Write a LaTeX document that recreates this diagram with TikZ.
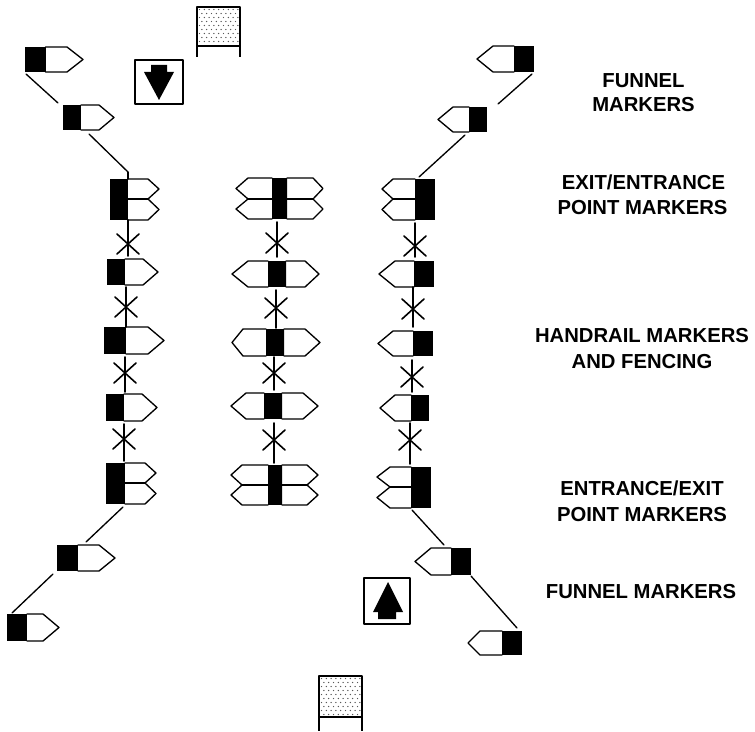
\documentclass[tikz,border=0pt]{standalone}
\usepackage{fontspec}
\setmainfont{Liberation Sans}
\tikzset{
  x=0.75pt,y=-0.75pt,
  ln/.style={line width=1pt,black,line join=round,line cap=round},
  stk/.style={line width=1.2pt,black,line cap=round},
  boxln/.style={line width=1.2pt,black,line join=round},
  lbl/.style={font=\fontsize{15.2pt}{17pt}\selectfont\bfseries,anchor=base,inner sep=0pt,text=black}
}
% single marker: outer, split, shoulder, tip, top, bottom
\newcommand\mks[6]{%
  \draw[ln] (#2,#5) -- (#3,#5) -- (#4,{(#5+#6)/2}) -- (#3,#6) -- (#2,#6);
  \fill[black] (#1,#5) rectangle (#2,#6);
}
% one side of a double marker: outer, split, shoulder, tip, top, mid, bottom
\newcommand\mkd[7]{%
  \draw[ln] (#2,#5) -- (#3,#5) -- (#4,{(#5+#6)/2}) -- (#3,#6) -- (#4,{(#6+#7)/2}) -- (#3,#7) -- (#2,#7);
  \draw[ln] (#2,#6) -- (#3,#6);
  \fill[black] (#1,#5) rectangle (#2,#7);
}
\newcommand\conn[3]{%
  \coordinate (#1s) at (#2);
  \coordinate (#1e) at (#3);
  \draw[ln] (#1s) -- (#1e);
}
% fence cross: name, cx, cy, vertical top, vertical bottom
\newcommand\fence[5]{%
  \coordinate (#1c) at (#2,#3);
  \coordinate (#1t) at (#2,#4);
  \coordinate (#1b) at (#2,#5);
  \draw[stk] (#1t) -- (#1b);
  \draw[stk] ([shift={(-11,-10)}]#1c) -- ([shift={(11,10)}]#1c);
  \draw[stk] ([shift={(-11,10)}]#1c) -- ([shift={(11,-10)}]#1c);
}
% sign: x1, y1, x2, y2, post end
\newcommand\sign[5]{%
  \foreach \ro in {0,...,9}{%
    \foreach \co in {0,...,8}{%
      \pgfmathsetmacro\dx{#1+2.5+\co*4.8+mod(\ro,2)*2.4}
      \pgfmathsetmacro\dy{#2+2.5+\ro*4}
      \ifdim \dx pt<\dimexpr #3pt-1pt\relax
        \ifdim \dy pt<\dimexpr #4pt-1pt\relax
          \fill[black!65] (\dx,\dy) circle (0.55pt);
        \fi
      \fi
    }%
  }%
  \draw[boxln] (#1,#2) rectangle (#3,#4);
  \draw[boxln] (#1,#4) -- (#1,#5);
  \draw[boxln] (#3,#4) -- (#3,#5);
}
\begin{document}
\begin{tikzpicture}
\useasboundingbox (0,0) rectangle (755,731);
% left funnel
\mks{24.5}{45.5}{67}{83}{47}{72}
\mks{62.5}{81}{99}{114}{105}{130}
\conn{la}{26,74}{58,103}
\conn{lb}{89,134}{128,172}
\conn{lc}{128,172}{128,179}
% left column
\mkd{110}{128}{148}{159}{179}{199}{220}
\fence{lf1}{128}{244}{220}{256}
\mks{107}{125}{143}{158}{259}{285}
\fence{lf2}{126}{307}{287}{327}
\mks{104}{126}{148}{164}{327}{354}
\fence{lf3}{125}{373}{357}{392}
\mks{106}{124}{142}{157}{394}{421}
\fence{lf4}{124}{439}{424}{461}
\mkd{106}{125}{145}{156}{463}{483}{504}
\conn{ld}{123,507}{86,542}
\mks{57}{78}{99}{115}{545}{571}
\conn{le}{53,574}{12,613}
\mks{7}{27}{43}{59}{614}{641}
% centre column
\mkd{272}{272}{248}{236}{178}{199}{219}
\mkd{287}{287}{313}{323}{178}{199}{219}
\fill[black] (272,178) rectangle (287,219);
\fence{cf1}{277}{243}{222}{257}
\mks{268}{268}{248}{232}{261}{287}
\mks{286}{286}{305}{319}{261}{287}
\fill[black] (268,261) rectangle (286,287);
\fence{cf2}{276}{308}{290}{328}
\mks{266}{266}{243}{232}{329}{356}
\mks{284}{284}{305}{320}{329}{356}
\fill[black] (266,329) rectangle (284,356);
\fence{cf3}{274}{373}{357}{390}
\mks{264}{264}{246}{231}{393}{419}
\mks{282}{282}{303}{318}{393}{419}
\fill[black] (264,393) rectangle (282,419);
\fence{cf4}{274}{440}{423}{463}
\mkd{268}{268}{242}{231}{465}{485}{505}
\mkd{282}{282}{307}{318}{465}{485}{505}
\fill[black] (268,465) rectangle (282,505);
% right funnel
\mks{534}{514}{493}{477}{46}{72}
\conn{ra}{532,74}{498,104}
\mks{487}{469}{453}{438}{107}{132}
\conn{rb}{465,135}{419,177}
% right column
\mkd{435}{415}{393}{382}{179}{199}{220}
\fence{rf1}{415}{246}{223}{257}
\mks{434}{414}{395}{379}{261}{287}
\fence{rf2}{413}{309}{287}{327}
\mks{433}{413}{393}{378}{331}{356}
\fence{rf3}{412}{377}{360}{392}
\mks{429}{411}{395}{380}{395}{421}
\fence{rf4}{410}{440}{423}{464}
\mkd{431}{411}{390}{377}{467}{487}{508}
\conn{rc}{412,510}{444,545}
\mks{471}{451}{431}{415}{548}{575}
\conn{rd}{471,576}{517,628}
\mks{522}{502}{480}{468}{631}{655}
% direction signs
\draw[boxln] (135,60) rectangle (183,104);
\fill[black] (151,65) -- (167,65) -- (167,72) -- (174,72) -- (159,100) -- (144,72) -- (151,72) -- cycle;
\draw[boxln] (364,578) rectangle (410,624);
\fill[black] (388,582) -- (403,612) -- (396,612) -- (396,619) -- (378,619) -- (378,612) -- (373,612) -- cycle;
% stop signs
\sign{197}{7}{240}{46}{57}
\sign{319}{676}{362}{717}{731}
% labels
\node[lbl] (t1) at (643.5,88) {FUNNEL};
\node[lbl] (t2) at (643.5,112) {MARKERS};
\node[lbl] (t3) at (643.5,189) {EXIT/ENTRANCE};
\node[lbl] (t4) at (642.5,214) {POINT MARKERS};
\node[lbl] (t5) at (642,342) {HANDRAIL MARKERS};
\node[lbl] (t6) at (642,368) {AND FENCING};
\node[lbl] (t7) at (642,495) {ENTRANCE/EXIT};
\node[lbl] (t8) at (642,521) {POINT MARKERS};
\node[lbl] (t9) at (641,598) {FUNNEL MARKERS};
\end{tikzpicture}
\end{document}
